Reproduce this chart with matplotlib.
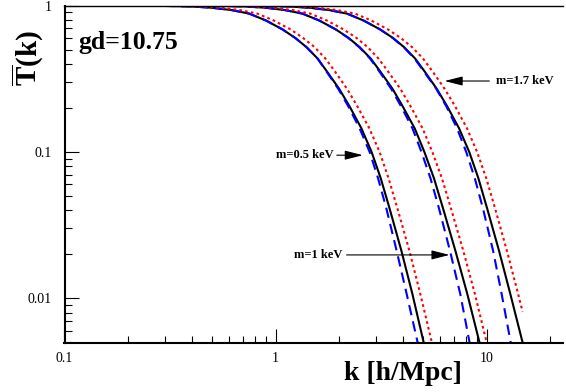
import numpy as np
import matplotlib
matplotlib.use('Agg')
import matplotlib.pyplot as plt
from matplotlib.ticker import NullFormatter, LogLocator

plt.rcParams['font.family'] = ['Liberation Serif', 'DejaVu Serif']
plt.rcParams['mathtext.fontset'] = 'custom'
plt.rcParams['mathtext.rm'] = 'Liberation Serif'
plt.rcParams['mathtext.bf'] = 'Liberation Serif:bold'

# ---- data ----
# m = 0.5 keV
k_05_black = [0.1, 0.2, 0.3, 0.4, 0.5, 0.62, 0.75, 0.9, 1.08, 1.24, 1.4, 1.58, 1.75, 2.0, 2.24, 2.55, 2.85, 3.15, 3.47, 3.95, 4.45, 5.03]
T_05_black = [1.0, 0.998, 0.993, 0.985, 0.965, 0.93, 0.88, 0.79, 0.686, 0.60, 0.52, 0.435, 0.355, 0.27, 0.205, 0.145, 0.10, 0.066, 0.041, 0.021, 0.0107, 0.005]
k_05_blue = [0.1, 0.2, 0.3, 0.4, 0.5, 0.62, 0.75, 0.9, 1.08, 1.24, 1.4, 1.58, 1.74, 1.98, 2.21, 2.5, 2.79, 3.06, 3.35, 3.75, 4.18, 4.71]
T_05_blue = [1.0, 0.998, 0.993, 0.985, 0.965, 0.93, 0.88, 0.79, 0.686, 0.60, 0.52, 0.435, 0.355, 0.27, 0.205, 0.145, 0.10, 0.066, 0.041, 0.021, 0.0107, 0.005]
k_05_red = [0.1, 0.22, 0.33, 0.44, 0.55, 0.68, 0.82, 0.98, 1.18, 1.35, 1.53, 1.72, 1.91, 2.18, 2.44, 2.78, 3.11, 3.43, 3.78, 4.31, 4.85, 5.5]
T_05_red = [1.0, 0.998, 0.993, 0.985, 0.965, 0.93, 0.88, 0.79, 0.686, 0.60, 0.52, 0.435, 0.355, 0.27, 0.205, 0.145, 0.10, 0.066, 0.041, 0.021, 0.0107, 0.005]

# m = 1 keV
k_1_black = [0.1, 0.2, 0.36, 0.54, 0.72, 0.9, 1.11, 1.34, 1.61, 1.93, 2.22, 2.5, 2.82, 3.13, 3.58, 4.0, 4.56, 5.07, 5.63, 6.22, 7.12, 8.1, 9.25]
T_1_black = [1.0, 0.999, 0.998, 0.993, 0.985, 0.965, 0.93, 0.88, 0.79, 0.686, 0.60, 0.52, 0.435, 0.355, 0.27, 0.205, 0.145, 0.10, 0.066, 0.041, 0.021, 0.0107, 0.005]
k_1_blue = [0.1, 0.2, 0.36, 0.54, 0.72, 0.9, 1.11, 1.34, 1.61, 1.93, 2.21, 2.49, 2.8, 3.1, 3.53, 3.93, 4.45, 4.91, 5.42, 5.95, 6.71, 7.5, 8.3]
T_1_blue = [1.0, 0.999, 0.998, 0.993, 0.985, 0.965, 0.93, 0.88, 0.79, 0.686, 0.60, 0.52, 0.435, 0.355, 0.27, 0.205, 0.145, 0.10, 0.066, 0.041, 0.021, 0.0107, 0.005]
k_1_red = [0.1, 0.22, 0.39, 0.59, 0.78, 0.98, 1.21, 1.46, 1.75, 2.1, 2.42, 2.73, 3.07, 3.41, 3.9, 4.36, 4.97, 5.53, 6.14, 6.78, 7.76, 8.8, 10.0]
T_1_red = [1.0, 0.999, 0.998, 0.993, 0.985, 0.965, 0.93, 0.88, 0.79, 0.686, 0.60, 0.52, 0.435, 0.355, 0.27, 0.205, 0.145, 0.10, 0.066, 0.041, 0.021, 0.0107, 0.005]

# m = 1.7 keV
k_17_black = [0.1, 0.29, 0.58, 0.87, 1.16, 1.45, 1.80, 2.18, 2.61, 3.13, 3.60, 4.06, 4.58, 5.08, 5.8, 6.5, 7.4, 8.27, 9.14, 10.06, 11.46, 12.95, 14.8]
T_17_black = [1.0, 0.9995, 0.998, 0.993, 0.985, 0.965, 0.93, 0.88, 0.79, 0.686, 0.60, 0.52, 0.435, 0.355, 0.27, 0.205, 0.145, 0.10, 0.066, 0.041, 0.021, 0.0107, 0.005]
k_17_blue = [0.1, 0.29, 0.58, 0.87, 1.16, 1.45, 1.80, 2.18, 2.61, 3.13, 3.59, 4.04, 4.55, 5.04, 5.77, 6.44, 7.24, 8.0, 8.79, 9.61, 10.74, 11.78, 13.0]
T_17_blue = [1.0, 0.9995, 0.998, 0.993, 0.985, 0.965, 0.93, 0.88, 0.79, 0.686, 0.60, 0.52, 0.435, 0.355, 0.27, 0.205, 0.145, 0.10, 0.066, 0.041, 0.021, 0.0107, 0.005]
k_17_red = [0.1, 0.32, 0.63, 0.95, 1.26, 1.58, 1.96, 2.38, 2.84, 3.41, 3.92, 4.43, 4.99, 5.54, 6.32, 7.09, 8.07, 9.01, 9.96, 10.97, 12.49, 14.1, 14.8]
T_17_red = [1.0, 0.9995, 0.998, 0.993, 0.985, 0.965, 0.93, 0.88, 0.79, 0.686, 0.60, 0.52, 0.435, 0.355, 0.27, 0.205, 0.145, 0.10, 0.066, 0.041, 0.021, 0.0107, 0.0081]

W, H = 566, 392
fig = plt.figure(figsize=(W / 100, H / 100), dpi=100)
ax = fig.add_axes([64.5 / W, 1 - 342.7 / H, (563 - 64.5) / W, (342.7 - 5.5) / H])

groups = [(k_05_black, T_05_black, k_05_blue, T_05_blue, k_05_red, T_05_red),
          (k_1_black, T_1_black, k_1_blue, T_1_blue, k_1_red, T_1_red),
          (k_17_black, T_17_black, k_17_blue, T_17_blue, k_17_red, T_17_red)]
for kb, tb, kbl, tbl, kr, tr in groups:
    ax.plot(kb, tb, color='black', lw=1.5, solid_capstyle='butt')
    ax.plot(kbl, tbl, color='#0000ff', lw=1.5, ls=(0, (5, 3)))
    ax.plot(kr, tr, color='#ff0000', lw=1.5, ls=(0, (1.3, 1.5)))

ax.set_xscale('log')
ax.set_yscale('log')
ax.set_xlim(0.1, 23)
ax.set_ylim(0.00498, 1)

ax.set_xticks([0.1, 1, 10])
ax.set_xticklabels(['0.1', '1', '10'])
ax.set_yticks([0.01, 0.1, 1])
ax.set_yticklabels(['0.01', '0.1', '1'])
ax.xaxis.set_minor_locator(LogLocator(base=10, subs=np.arange(2, 10)))
ax.yaxis.set_minor_locator(LogLocator(base=10, subs=np.arange(2, 10)))
ax.xaxis.set_minor_formatter(NullFormatter())
ax.yaxis.set_minor_formatter(NullFormatter())
ax.tick_params(which='both', direction='in', top=False, right=False, width=0.8, labelsize=10)
ax.tick_params(which='major', length=10)
ax.tick_params(which='minor', length=5)
ax.tick_params(axis='x', pad=7)
ax.tick_params(axis='y', pad=9)

ax.spines['right'].set_visible(False)
ax.spines['left'].set_linewidth(1.5)
ax.spines['bottom'].set_linewidth(1.5)
ax.spines['top'].set_linewidth(1.0)

# labels
fig.text(403 / W, 1 - 373 / H, 'k [h/Mpc]', ha='center', va='center', fontsize=20, fontweight='bold')
fig.text(27 / W, 1 - 58 / H, r'$\mathbf{\overline{T}(k)}$', ha='center', va='center', fontsize=21, rotation=90)
fig.text(78 / W, 1 - 49 / H, 'gd=10.75', ha='left', va='baseline', fontsize=18.5, fontweight='bold')

arrow = dict(arrowstyle='-|>,head_length=0.55,head_width=0.14', color='black', lw=0.8, mutation_scale=20,
             shrinkA=0, shrinkB=0)
ax.annotate('', xy=(2.59, 0.095), xytext=(1.95, 0.095), arrowprops=arrow)
ax.text(1.88, 0.095, 'm=0.5 keV', ha='right', va='center', fontsize=9, fontweight='bold')
ax.annotate('', xy=(6.32, 0.305), xytext=(10.3, 0.305), arrowprops=arrow)
ax.text(11.1, 0.305, 'm=1.7 keV', ha='left', va='center', fontsize=9, fontweight='bold')
ax.annotate('', xy=(6.67, 0.0198), xytext=(2.17, 0.0198), arrowprops=arrow)
ax.text(2.08, 0.0198, 'm=1 keV', ha='right', va='center', fontsize=9, fontweight='bold')

fig.savefig('out.png', dpi=100)
